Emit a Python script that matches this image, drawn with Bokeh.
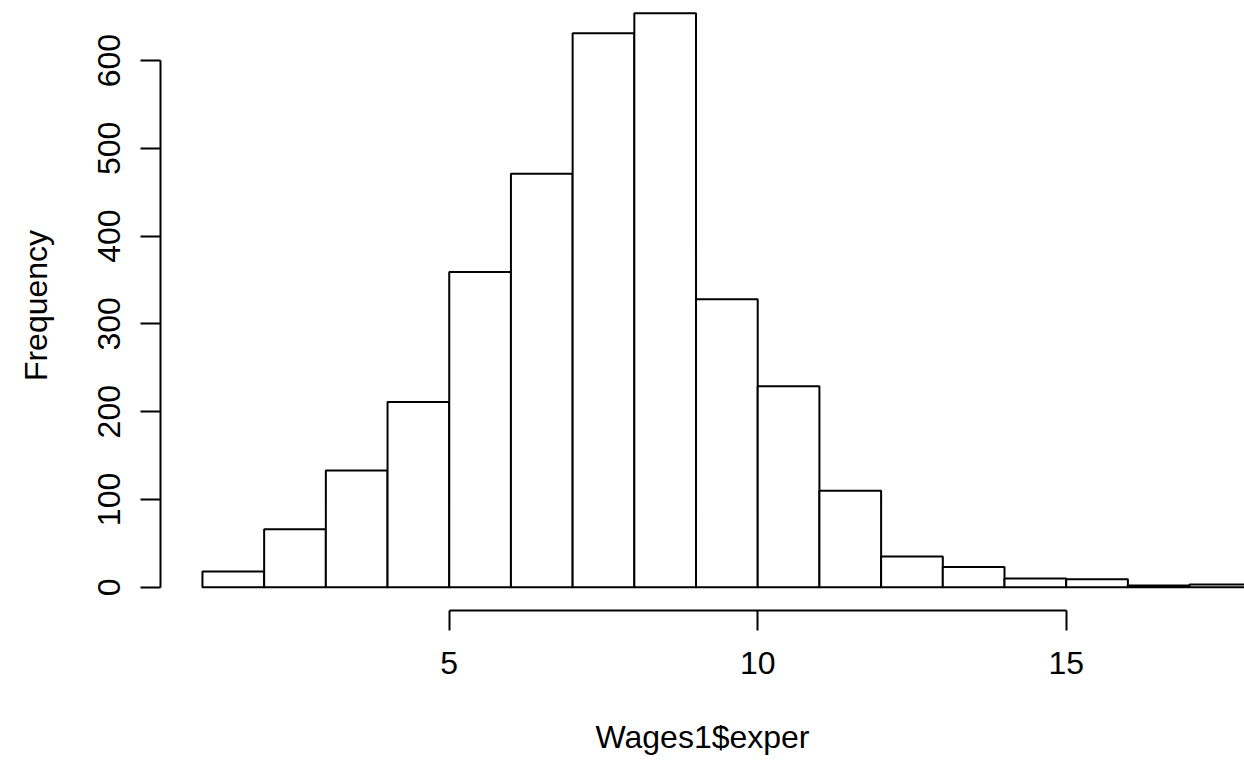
from bokeh.plotting import figure
from bokeh.models import Range1d, FixedTicker
from bokeh.embed import file_html
from bokeh.resources import INLINE

# Histogram of Wages1$exper (bin edges and counts)
bin_left = [1, 2, 3, 4, 5, 6, 7, 8, 9, 10, 11, 12, 13, 14, 15, 16, 17]
bin_right = [2, 3, 4, 5, 6, 7, 8, 9, 10, 11, 12, 13, 14, 15, 16, 17, 18]
counts = [18, 66, 133, 211, 359, 471, 631, 654, 328, 229, 110, 35, 23, 10, 9, 2, 3]

x_ticks = [5, 10, 15]
y_ticks = [0, 100, 200, 300, 400, 500, 600]

FONT = "Liberation Sans"
FS = "32px"

p = figure(width=1244, height=770, output_backend="svg", toolbar_location=None,
           x_range=Range1d(0.32, 17.89), y_range=Range1d(-26.5, 668.4),
           min_border_left=160, min_border_right=0, min_border_top=0,
           min_border_bottom=160)
p.outline_line_color = None
p.xgrid.visible = False
p.ygrid.visible = False
p.background_fill_color = "white"
p.border_fill_color = "white"

p.quad(left=bin_left, right=bin_right, bottom=0, top=counts,
       fill_color="white", line_color="black", line_width=2)

for ax in (p.xaxis[0], p.yaxis[0]):
    ax.axis_line_color = "black"
    ax.axis_line_width = 2
    ax.major_tick_line_color = "black"
    ax.major_tick_line_width = 2
    ax.major_tick_out = 20
    ax.major_tick_in = 0
    ax.minor_tick_line_color = None
    ax.major_label_text_font = FONT
    ax.major_label_text_font_size = FS
    ax.major_label_text_color = "black"
    ax.axis_label_text_font = FONT
    ax.axis_label_text_font_size = FS
    ax.axis_label_text_font_style = "normal"
    ax.axis_label_text_color = "black"

xa = p.xaxis[0]
xa.ticker = FixedTicker(ticks=x_ticks)
xa.bounds = (5, 15)
xa.major_label_standoff = 21
xa.axis_label = "Wages1$exper"
xa.axis_label_standoff = 42

ya = p.yaxis[0]
ya.ticker = FixedTicker(ticks=y_ticks)
ya.bounds = (0, 600)
ya.major_label_orientation = "vertical"
ya.major_label_standoff = 20
ya.axis_label = "Frequency"
ya.axis_label_standoff = 42

open("out.html", "w").write(file_html(p, INLINE))
